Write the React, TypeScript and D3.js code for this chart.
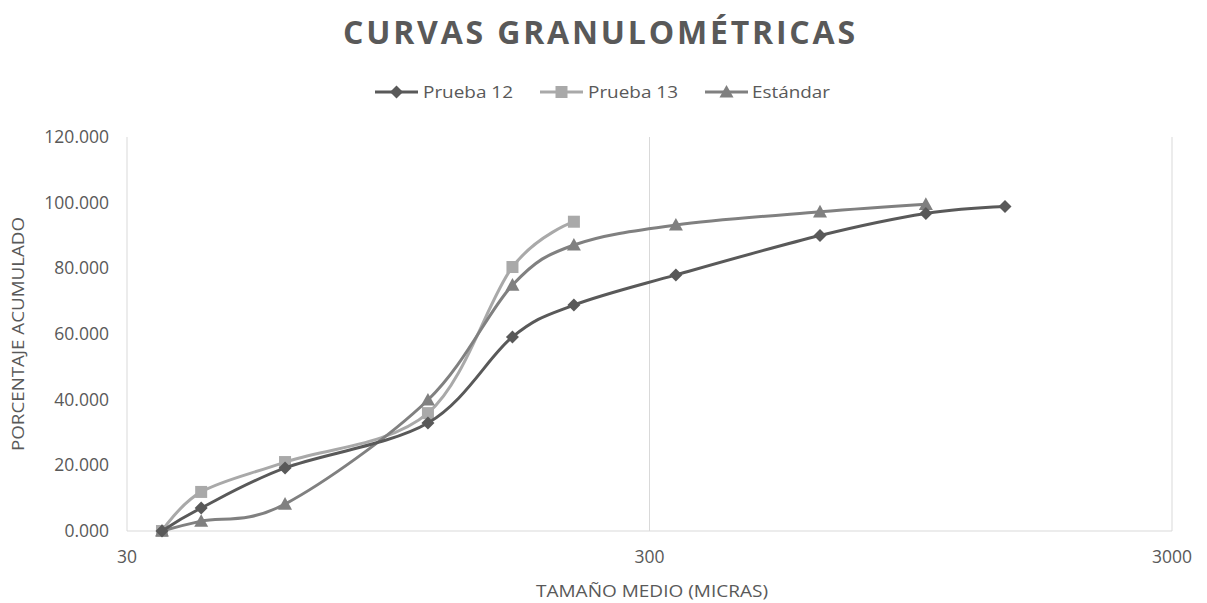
import React from "react";
import * as d3 from "d3";

const sizesP12 = [35, 41.6, 60.2, 113, 164, 215, 337, 636, 1014, 1437];
const valuesP12 = [0, 7.0, 19.2, 32.9, 59.1, 68.8, 78.0, 90.0, 96.7, 98.8];

const sizesP13 = [35, 41.6, 60.2, 113, 164, 215];
const valuesP13 = [0, 11.9, 21.0, 35.9, 80.4, 94.2];

const sizesStd = [35, 41.6, 60.2, 113, 164, 215, 337, 636, 1014];
const valuesStd = [0, 3.0, 8.2, 39.9, 74.9, 87.1, 93.2, 97.2, 99.5];

const xTicks = [30, 300, 3000];
const yTicks = [0, 20, 40, 60, 80, 100, 120];

const seriesNames = ["Prueba 12", "Prueba 13", "Estándar"];
const seriesColors = ["#595959", "#a9a9a9", "#808080"];
const seriesShapes = ["diamond", "square", "triangle"];

const W = 1207;
const H = 603;
const left = 127;
const right = 1172;
const top = 137;
const bottom = 531;

function Marker({ shape, x, y, color }: { shape: string; x: number; y: number; color: string }) {
  if (shape === "diamond") {
    const s = 6.5;
    return <path d={`M${x},${y - s}L${x + s},${y}L${x},${y + s}L${x - s},${y}Z`} fill={color} />;
  }
  if (shape === "square") {
    const s = 6;
    return <rect x={x - s} y={y - s} width={2 * s} height={2 * s} fill={color} />;
  }
  const s = 7;
  return <path d={`M${x},${y - s}L${x + s},${y + s * 0.8}L${x - s},${y + s * 0.8}Z`} fill={color} />;
}

export default function App() {
  const x = d3.scaleLog().domain([30, 3000]).range([left, right]);
  const y = d3.scaleLinear().domain([0, 120]).range([bottom, top]);
  const line = d3
    .line<[number, number]>()
    .x((d) => x(d[0]))
    .y((d) => y(d[1]))
    .curve(d3.curveCardinal.tension(0));

  const series = [
    sizesP12.map((s, i) => [s, valuesP12[i]] as [number, number]),
    sizesP13.map((s, i) => [s, valuesP13[i]] as [number, number]),
    sizesStd.map((s, i) => [s, valuesStd[i]] as [number, number]),
  ];
  const order = [1, 2, 0];
  const fontFam = "'Open Sans', 'Segoe UI', sans-serif";
  const legendItems = [
    { lx: 375, tx: 423, tw: 90 },
    { lx: 540, tx: 588, tw: 90 },
    { lx: 705, tx: 752, tw: 78 },
  ];

  return (
    <svg width={W} height={H} style={{ position: "absolute", left: 0, top: 0, background: "#fff" }}>
      <rect width={W} height={H} fill="#fff" />
      <text
        x={343}
        y={44}
        fontFamily={fontFam}
        fontWeight="bold"
        fontSize={32}
        fill="#595959"
        textLength={512}
        lengthAdjust="spacing"
      >
        CURVAS GRANULOMÉTRICAS
      </text>

      {/* legend */}
      {seriesNames.map((name, i) => {
        const it = legendItems[i];
        return (
          <g key={name}>
            <line x1={it.lx} x2={it.lx + 43} y1={92} y2={92} stroke={seriesColors[i]} strokeWidth={3} />
            <Marker shape={seriesShapes[i]} x={it.lx + 21.5} y={92} color={seriesColors[i]} />
            <text x={it.tx} y={98} fontFamily={fontFam} fontSize={17} fill="#595959" textLength={it.tw} lengthAdjust="spacingAndGlyphs">
              {name}
            </text>
          </g>
        );
      })}

      {/* gridlines / axes */}
      {xTicks.map((t) => (
        <line key={t} x1={x(t)} x2={x(t)} y1={top} y2={bottom} stroke="#d9d9d9" strokeWidth={1} />
      ))}
      <line x1={left} x2={right} y1={bottom} y2={bottom} stroke="#d9d9d9" strokeWidth={1} />

      {yTicks.map((t) => (
        <text key={t} x={109} y={y(t) + 6} textAnchor="end" fontFamily={fontFam} fontSize={17.5} fill="#595959">
          {d3.format(".3f")(t)}
        </text>
      ))}
      {xTicks.map((t) => (
        <text key={t} x={x(t)} y={563} textAnchor="middle" fontFamily={fontFam} fontSize={17.5} fill="#595959">
          {t}
        </text>
      ))}

      <text x={652} y={597} textAnchor="middle" fontFamily={fontFam} fontSize={16} fill="#595959" textLength={232} lengthAdjust="spacingAndGlyphs">
        TAMAÑO MEDIO (MICRAS)
      </text>
      <text
        transform={`translate(24,334) rotate(-90)`}
        textAnchor="middle"
        fontFamily={fontFam}
        fontSize={16}
        fill="#595959"
        textLength={234}
        lengthAdjust="spacingAndGlyphs"
      >
        PORCENTAJE ACUMULADO
      </text>

      {/* series */}
      {order.map((i) => (
        <g key={i}>
          <path d={line(series[i]) || ""} fill="none" stroke={seriesColors[i]} strokeWidth={3} />
          {series[i].map((d, j) => (
            <Marker key={j} shape={seriesShapes[i]} x={x(d[0])} y={y(d[1])} color={seriesColors[i]} />
          ))}
        </g>
      ))}
    </svg>
  );
}
